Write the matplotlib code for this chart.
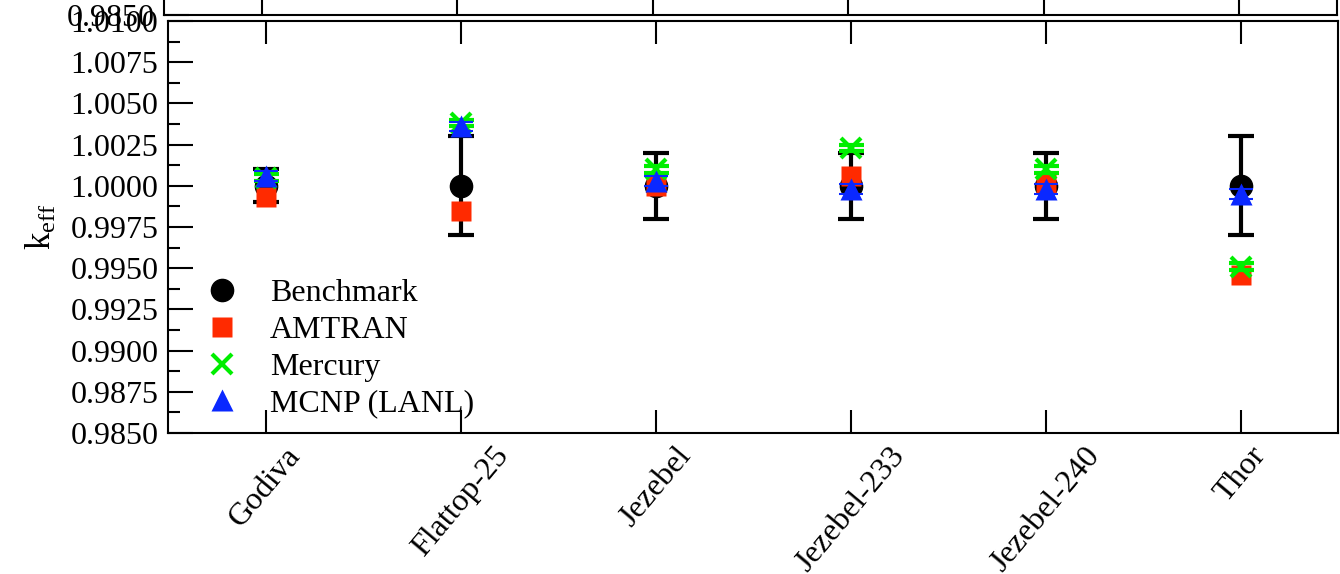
import matplotlib
matplotlib.use('Agg')
import matplotlib.pyplot as plt
from matplotlib.lines import Line2D
from matplotlib.ticker import MultipleLocator

plt.rcParams['font.family'] = ['Liberation Serif', 'DejaVu Serif']
plt.rcParams['mathtext.fontset'] = 'custom'
plt.rcParams['mathtext.rm'] = 'Liberation Serif'
plt.rcParams['mathtext.it'] = 'Liberation Serif:italic'

# benchmark cases and k_eff values
cases = ['Godiva', 'Flattop-25', 'Jezebel', 'Jezebel-233', 'Jezebel-240', 'Thor']
benchmark = [1.0000, 1.0000, 1.0000, 1.0000, 1.0000, 1.0000]
benchmark_err = [0.0010, 0.0030, 0.0020, 0.0020, 0.0020, 0.0030]
amtran = [0.9993, 0.9985, 1.0000, 1.0006, 1.0002, 0.9946]
mercury = [1.0005, 1.0038, 1.0010, 1.0023, 1.0010, 0.9951]
mercury_err = [0.0002, 0.0002, 0.0002, 0.0002, 0.0002, 0.0002]
mcnp = [1.0006, 1.0036, 1.0003, 0.9998, 0.9998, 0.9995]
mcnp_err = [0.0003, 0.0003, 0.0003, 0.0003, 0.0003, 0.0003]

x = list(range(len(cases)))
fs = 23

fig = plt.figure(figsize=(13.4, 5.74), dpi=100)

# the cut-off panel above (only its bottom edge shows)
W, H = 1340, 574
ax_top = fig.add_axes([164 / W, (H - 15) / H, (1337 - 164) / W, 0.5])
ax_top.set_xlim(-0.5, 5.5)
ax_top.set_ylim(0.9850, 1.0100)
ax_top.set_xticks(x)
ax_top.set_xticklabels([])
ax_top.set_yticks([0.9850])
ax_top.set_yticklabels(['0.9850'])
ax_top.tick_params(axis='x', direction='in', length=16.5, width=1.5, top=False)
ax_top.tick_params(axis='y', direction='in', length=18, width=1.5, labelsize=fs, pad=7)
for s in ax_top.spines.values():
    s.set_linewidth(1.5)

# main panel
ax = fig.add_axes([168 / W, (H - 433) / H, 1170 / W, 412 / H])

ax.errorbar(x, benchmark, yerr=benchmark_err, fmt='o', color='black', ms=16,
            elinewidth=3, capsize=9.5, capthick=3, zorder=2)
ax.plot(x, amtran, 's', color='#ff2a00', ms=15, mec='none', zorder=3)
ax.errorbar(x, mercury, yerr=mercury_err, fmt='x', color='#00ee00', ms=14, mew=3,
            elinewidth=1.5, capsize=9, capthick=1.5, zorder=4)
ax.errorbar(x, mcnp, yerr=mcnp_err, fmt='^', color='#0a28ff', ms=16, mec='none',
            elinewidth=1.5, capsize=8.5, capthick=1.5, zorder=5)

ax.set_xlim(-0.5, 5.5)
ax.set_ylim(0.9850, 1.0100)
ax.yaxis.set_major_locator(MultipleLocator(0.0025))
ax.yaxis.set_minor_locator(MultipleLocator(0.00125))
ax.yaxis.set_major_formatter(matplotlib.ticker.FormatStrFormatter('%.4f'))
ax.set_xticks(x)
ax.set_xticklabels(cases, rotation=50, ha='center', va='top')
ax.tick_params(axis='x', direction='in', length=16.5, width=1.5, top=True,
               labelsize=fs, pad=6)
ax.tick_params(axis='y', which='major', direction='in', length=18, width=1.5,
               labelsize=fs, pad=7)
ax.tick_params(axis='y', which='minor', direction='in', length=8.6, width=1.5)
for s in ax.spines.values():
    s.set_linewidth(1.5)
ax.set_ylabel(r'k$_{\rm eff}$', fontsize=fs + 2, labelpad=8)

handles = [
    Line2D([], [], ls='none', marker='o', color='black', ms=16),
    Line2D([], [], ls='none', marker='s', color='#ff2a00', ms=15, mec='none'),
    Line2D([], [], ls='none', marker='x', color='#00ee00', ms=14, mew=3),
    Line2D([], [], ls='none', marker='^', color='#0a28ff', ms=16, mec='none'),
]
ax.legend(handles, ['Benchmark', 'AMTRAN', 'Mercury', 'MCNP (LANL)'],
          loc='lower left', bbox_to_anchor=(0.0325, 0.035), frameon=False,
          fontsize=fs, handlelength=1.0, handletextpad=1.0, labelspacing=0.23,
          borderaxespad=0, borderpad=0)

fig.savefig('out.png', dpi=100)
